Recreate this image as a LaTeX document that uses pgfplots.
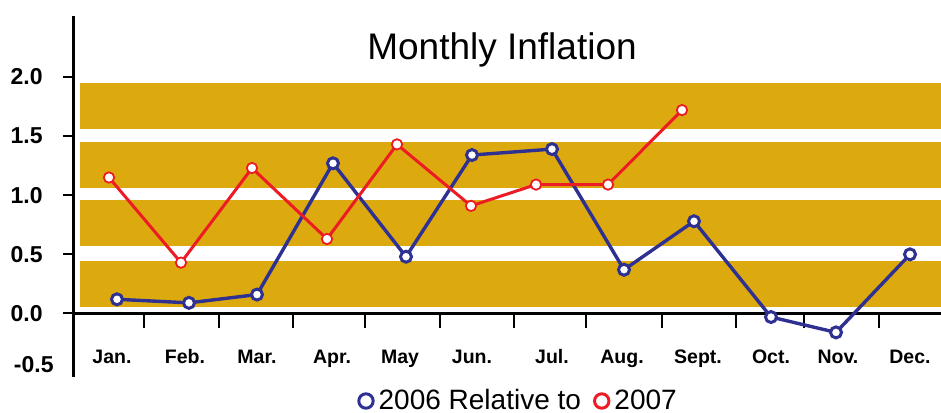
\documentclass[border=0pt]{standalone}
\usepackage{pgfplots}
\pgfplotsset{compat=1.18}
\usepackage{fontspec}
\setmainfont{Liberation Sans}
\definecolor{bandgold}{HTML}{DCAA0E}
\definecolor{navy}{HTML}{2E3192}
\definecolor{brightred}{HTML}{ED1C24}

\begin{document}
\begin{tikzpicture}
\begin{axis}[
    x=0.5pt, y=59.125pt,
    xmin=74, xmax=941,
    ymin=-0.534, ymax=2.517,
    axis x line=middle,
    axis y line=left,
    axis line style={-, line width=1.5pt, black},
    every inner x axis line/.append style={-},
    every outer y axis line/.append style={-},
    clip=false,
    ytick={0,0.5,1,1.5,2},
    yticklabels={0.0,0.5,1.0,1.5,2.0},
    extra y ticks={-0.43},
    extra y tick labels={-0.5},
    extra y tick style={major tick length=0pt},
    ytick style={line width=1pt, black},
    y tick label style={font=\bfseries\fontsize{11.5}{13}\selectfont, anchor=east, inner sep=0pt, xshift=-10pt},
    ytick align=outside,
    major tick length=5.5pt,
    xtick={112,185,257,332,400,472,552,622,698,771,838,910},
    xticklabels={Jan.,Feb.,Mar.,Apr.,May,Jun.,Jul.,Aug.,Sept.,Oct.,Nov.,Dec.},
    xtick style={draw=none},
    x tick label style={font=\bfseries\fontsize{9.75}{11}\selectfont, anchor=base, inner sep=0pt, yshift=-22.25pt},
    extra x ticks={144,219,293,365,440,514,586,662,736,804,879},
    extra x tick labels={},
    extra x tick style={xtick style={draw=black, line width=1pt}, xtick align=outside, major tick length=7.5pt},
    legend style={at={(axis cs:519,-0.74)}, anchor=center, draw=none, fill=none,
      font=\fontsize{14}{16}\selectfont, legend columns=2,
      /tikz/every even column/.append style={column sep=4pt},
      legend cell align=left, inner sep=0pt},
]
% background bands
\addplot[draw=none, fill=bandgold, forget plot] coordinates {(80,0.055) (941,0.055) (941,0.444) (80,0.444)} -- cycle;
\addplot[draw=none, fill=bandgold, forget plot] coordinates {(80,0.571) (941,0.571) (941,0.960) (80,0.960)} -- cycle;
\addplot[draw=none, fill=bandgold, forget plot] coordinates {(80,1.061) (941,1.061) (941,1.450) (80,1.450)} -- cycle;
\addplot[draw=none, fill=bandgold, forget plot] coordinates {(80,1.560) (941,1.560) (941,1.945) (80,1.945)} -- cycle;

% 2006
\addplot[navy, line width=1.7pt, mark=*, mark size=2.75pt,
    mark options={fill=white, draw=navy, line width=1.5pt}, forget plot]
  coordinates {(117,0.12) (189,0.09) (257,0.16) (333,1.27) (406,0.48) (472,1.34)
               (552,1.39) (624,0.37) (694,0.78) (771,-0.03) (836,-0.16) (910,0.50)};
% 2007
\addplot[brightred, line width=1.5pt, mark=*, mark size=2.6pt,
    mark options={fill=white, draw=brightred, line width=0.9pt}, forget plot]
  coordinates {(109,1.15) (181,0.43) (252,1.23) (327,0.63) (397,1.43) (471,0.91)
               (536,1.09) (608,1.09) (682,1.72)};

\addlegendimage{legend image code/.code={\draw[navy, line width=1.5pt] (0pt,0pt) circle (3.6pt);}}
\addlegendentry{2006 Relative to}
\addlegendimage{legend image code/.code={\draw[brightred, line width=1.5pt] (0pt,0pt) circle (3.6pt);}}
\addlegendentry{2007}

\node[anchor=base, font=\fontsize{18.5}{22}\selectfont] at (axis cs:502,2.144) {Monthly Inflation};

\coordinate (bbl) at (axis cs:0,-0.8414);
\coordinate (btr) at (axis cs:941,2.651);
\end{axis}
\pgfresetboundingbox
\useasboundingbox (bbl) rectangle (btr);
\end{tikzpicture}
\end{document}
